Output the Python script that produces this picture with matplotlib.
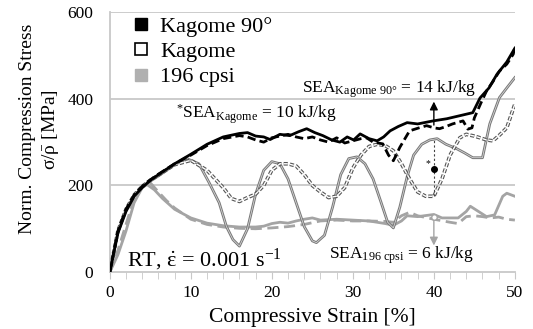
import numpy as np
import matplotlib
matplotlib.use("Agg")
from matplotlib import pyplot as plt
from matplotlib.lines import Line2D
import matplotlib.patheffects as pe

plt.rcParams['font.family'] = ['Liberation Serif', 'DejaVu Serif']
plt.rcParams['mathtext.fontset'] = 'custom'
plt.rcParams['mathtext.rm'] = 'Liberation Serif'
plt.rcParams['mathtext.it'] = 'Liberation Serif:italic'
plt.rcParams['mathtext.bf'] = 'Liberation Serif:bold'

# Kagome 90 deg (black)
k90_solid_x = [0, 1, 2, 3, 4, 5, 6, 8, 10, 12, 14, 16, 17, 18, 19, 19.8, 21, 22.2, 23.3, 24.3, 25.3, 26.3, 27.4, 28.4, 29.3, 30.1, 30.9, 32, 33, 33.8, 34.6, 35.6, 36.7, 38, 39.9, 41.6, 43.2, 44.8, 45.7, 46.8, 47.8, 49, 50]
k90_solid_y = [0, 90, 140, 175, 195, 212, 225, 250, 272, 295, 312, 320, 322, 314, 312, 306, 318, 315, 324, 331, 322, 315, 305, 300, 312, 305, 319, 308, 303, 312, 326, 336, 345, 342, 349, 354, 361, 368, 402, 425, 457, 485, 517]
k90_dash_x = [0, 1, 2, 3, 4, 5, 6, 8, 10, 12, 14, 16, 17, 18, 19, 20, 21, 22, 23, 24, 25, 26, 27, 28, 29, 30, 31, 31.7, 32.5, 33.7, 34.4, 35, 35.8, 37, 38, 39.1, 40, 40.7, 41.5, 42.3, 43.6, 44.2, 44.7, 45, 45.8, 46.5, 47.3, 48.1, 49, 49.8, 50]
k90_dash_y = [0, 95, 145, 178, 198, 213, 226, 250, 270, 292, 308, 315, 312, 305, 300, 310, 314, 318, 312, 308, 312, 305, 300, 310, 298, 303, 308, 310, 300, 296, 270, 257, 288, 326, 332, 338, 333, 331, 336, 342, 349, 330, 333, 356, 390, 418, 440, 464, 480, 503, 520]

# Kagome (hollow)
kag_solid_x = [0, 1, 2, 3, 4, 5, 6, 8, 9.5, 11, 12.3, 13.5, 14.4, 15.2, 16, 17, 18, 19, 20, 21, 22, 23, 24, 25, 25.5, 26.5, 27.5, 28.5, 29.5, 30.5, 31.5, 32.5, 33.5, 34.3, 35, 35.8, 36.7, 37.5, 38.5, 39.5, 40.4, 41.5, 42.8, 43.8, 44.8, 46, 46.9, 48.1, 49, 50]
kag_solid_y = [0, 92, 143, 176, 196, 210, 222, 248, 262, 250, 205, 160, 105, 75, 60, 100, 180, 235, 255, 250, 215, 160, 105, 72, 68, 85, 150, 225, 262, 266, 250, 215, 160, 115, 102, 150, 220, 270, 295, 305, 308, 295, 285, 275, 264, 264, 342, 403, 425, 449]
kag_dash_x = [0, 1, 2, 3, 4, 5, 6, 8, 10, 12, 14, 15, 16, 17, 18, 19, 20, 21, 22, 23, 24, 25, 26, 27, 28, 29, 30, 31, 32, 33, 34, 35, 36, 37, 38, 39, 40, 41, 42, 43.2, 44, 45, 45.7, 46.5, 47.3, 48.2, 49, 50]
kag_dash_y = [0, 95, 145, 178, 198, 212, 224, 248, 258, 235, 195, 170, 163, 172, 180, 200, 235, 250, 250, 245, 225, 200, 185, 172, 175, 195, 240, 270, 290, 295, 292, 280, 250, 215, 185, 175, 175, 215, 270, 310, 318, 314, 310, 305, 303, 318, 333, 388]

# 196 cpsi (gray)
c196_solid_x = [0, 1, 2, 3, 4, 4.6, 5.5, 6.5, 8, 10, 12, 14, 16, 18, 19, 20, 21, 22, 23, 24, 25, 26, 28, 30, 32, 34, 35, 36, 36.7, 38, 40, 41, 42, 43, 44, 44.5, 45.5, 46.5, 47.5, 48.5, 49, 50]
c196_solid_y = [0, 40, 95, 160, 195, 202, 190, 170, 145, 125, 113, 107, 104, 104, 106, 112, 115, 113, 118, 122, 125, 120, 122, 120, 118, 112, 108, 118, 130, 128, 133, 125, 125, 125, 140, 152, 140, 128, 132, 175, 182, 175]
c196_dash_x = [0, 1, 2, 3, 4, 5, 6, 7, 8, 10, 12, 14, 16, 18, 20, 22, 24, 26, 28, 30, 32, 34, 35, 36, 37, 38, 40, 42, 43, 44, 45, 46, 47, 48, 49, 50]
c196_dash_y = [0, 50, 110, 170, 198, 206, 185, 165, 148, 122, 110, 104, 101, 100, 102, 105, 110, 118, 120, 118, 118, 117, 115, 130, 138, 130, 122, 115, 112, 128, 130, 128, 125, 127, 122, 120]

legend_labels = ['Kagome 90°', 'Kagome', '196 cpsi']

fig = plt.figure(figsize=(5.33, 3.29), dpi=100)
ax = fig.add_axes([0.206, 0.173, 0.76, 0.79])

grid_c = '#c8c8c8'
gray = '#a4a4a4'
outline = '#7a7a7a'

# 196 cpsi
ax.plot(c196_solid_x, c196_solid_y, color=gray, lw=2.0, zorder=3)
ax.plot(c196_dash_x, c196_dash_y, color=gray, lw=2.0, ls=(0, (4, 2)), zorder=3)

# Kagome hollow lines
ax.plot(kag_solid_x, kag_solid_y, color='#e0e0e0', lw=0.5, zorder=4,
        path_effects=[pe.Stroke(linewidth=2.0, foreground=outline), pe.Normal()])
ax.plot(kag_dash_x, kag_dash_y, color='white', lw=1.0, ls=(0, (3, 1.5)), zorder=4,
        path_effects=[pe.Stroke(linewidth=2.6, foreground='#555555'), pe.Normal()])

# Kagome 90
ax.plot(k90_solid_x, k90_solid_y, color='black', lw=2.0, zorder=5)
ax.plot(k90_dash_x, k90_dash_y, color='black', lw=2.0, ls=(0, (3, 1.5)), zorder=5)

# SEA annotations
ax.annotate('', xy=(40, 400), xytext=(40, 333),
            arrowprops=dict(arrowstyle='-|>', color='black', lw=1.0, mutation_scale=12), zorder=6)
ax.annotate('', xy=(40, 55), xytext=(40, 126),
            arrowprops=dict(arrowstyle='-|>', color=gray, lw=1.0, mutation_scale=12), zorder=6)
ax.plot([40], [128], marker='o', ms=4, mfc='white', mec=gray, zorder=6)
ax.plot([40, 40], [175, 305], color='#444444', lw=0.8, ls=(0, (2, 2)), zorder=6)
ax.plot([40], [239], marker='o', ms=4, color='black', zorder=7)
ax.text(39.3, 250, '*', fontsize=7, ha='center', va='center', zorder=7)

ax.text(34.5, 414, r'SEA$_{\mathrm{Kagome\ 90°}}$ = 14 kJ/kg', fontsize=12.5, ha='center', va='baseline')
ax.text(18.1, 354, r'$^{*}$SEA$_{\mathrm{Kagome}}$ = 10 kJ/kg', fontsize=12.5, ha='center', va='baseline')
ax.text(36.0, 30, r'SEA$_{\mathrm{196\ cpsi}}$ = 6 kJ/kg', fontsize=12.5, ha='center', va='baseline')
ax.text(2.1, 13, r'RT, $\mathrm{\dot{\varepsilon}}$ = 0.001 s$^{\mathrm{-1}}$', fontsize=16, ha='left', va='baseline')

# axes styling
ax.set_xlim(0, 50)
ax.set_ylim(0, 600)
ax.set_xticks([0, 10, 20, 30, 40, 50])
ax.set_xticks(np.arange(0, 51, 2), minor=True)
ax.set_yticks([0, 200, 400, 600])
ax.tick_params(axis='x', which='both', direction='out', length=5, color=grid_c, labelsize=12.5, pad=4)
ax.tick_params(axis='y', length=0, labelsize=12.5, pad=12)
for y in [200, 400, 600]:
    ax.axhline(y, color=grid_c, lw=1.3, zorder=1)
for s in ['top', 'right']:
    ax.spines[s].set_visible(False)
ax.spines['left'].set_color(grid_c)
ax.spines['bottom'].set_color(grid_c)
ax.spines['left'].set_linewidth(1.3)
ax.spines['bottom'].set_linewidth(1.3)

ax.set_xlabel('Compressive Strain [%]', fontsize=15.5, labelpad=5)
ax.set_ylabel('Norm. Compression Stress\n' + r'$\mathrm{\sigma}/\bar{\mathrm{\rho}}$ [MPa]', fontsize=14, linespacing=1.3)
ax.yaxis.set_label_coords(-0.12, 0.55)

handles = [Line2D([], [], marker='s', ls='none', ms=9, mfc='black', mec='black'),
           Line2D([], [], marker='s', ls='none', ms=9, mfc='white', mec='black', mew=1.2),
           Line2D([], [], marker='s', ls='none', ms=9, mfc='#b0b0b0', mec='#b0b0b0')]
ax.legend(handles, legend_labels, loc='upper left', bbox_to_anchor=(0.012, 1.045), frameon=False,
          fontsize=16, handletextpad=0.35, labelspacing=0.22, handlelength=1.0, borderaxespad=0.3)

fig.savefig('out.png', dpi=100)
